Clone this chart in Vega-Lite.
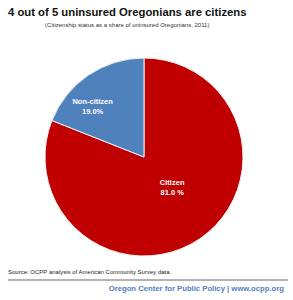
{
  "$schema": "https://vega.github.io/schema/vega-lite/v6.json",
  "padding": {"left": 7, "top": 6, "right": 6, "bottom": 2},
  "background": "white",
  "config": {"view": {"stroke": null}, "font": "Liberation Sans"},
  "title": {
    "text": "4 out of 5 uninsured Oregonians are citizens",
    "subtitle": "(Citizenship status as a share of uninsured Oregonians, 2011)",
    "anchor": "start",
    "align": "center",
    "dx": 120,
    "font": "Liberation Sans",
    "fontSize": 11.3,
    "fontWeight": "bold",
    "color": "#111111",
    "subtitleFont": "Liberation Sans",
    "subtitleFontSize": 6,
    "subtitleColor": "#333333",
    "subtitlePadding": 4,
    "offset": 27
  },
  "spacing": 4,
  "vconcat": [
    {
      "width": 272,
      "height": 204,
      "title": {
        "text": "Source: OCPP analysis of American Community Survey data.",
        "orient": "bottom",
        "anchor": "start",
        "align": "left",
        "dx": 0,
        "font": "Liberation Sans",
        "fontSize": 6,
        "fontWeight": "normal",
        "color": "#222222",
        "offset": 10
      },
      "data": {
        "values": [
          {"category": "Citizen", "share": 81.0, "label": "Citizen\n81.0 %"},
          {"category": "Non-citizen", "share": 19.0, "label": "Non-citizen\n19.0%"}
        ]
      },
      "encoding": {
        "theta": {"field": "share", "type": "quantitative", "stack": true},
        "order": {"field": "category", "sort": "ascending"}
      },
      "layer": [
        {
          "mark": {"type": "arc", "outerRadius": 99, "stroke": "#f2f2f2", "strokeWidth": 1},
          "encoding": {
            "color": {
              "field": "category",
              "type": "nominal",
              "scale": {"domain": ["Citizen", "Non-citizen"], "range": ["#C00000", "#4F81BD"]},
              "legend": null
            }
          }
        },
        {
          "mark": {"type": "text", "radius": 43, "dx": 4, "dy": -10, "font": "Liberation Sans", "fontSize": 7.5, "fontWeight": "bold", "color": "white", "lineBreak": "\n", "lineHeight": 10, "baseline": "middle"},
          "encoding": {
            "text": {"condition": {"test": "datum.category == 'Citizen'", "field": "label"}, "value": ""}
          }
        },
        {
          "mark": {"type": "text", "radius": 70, "dx": -12, "dy": 3, "font": "Liberation Sans", "fontSize": 7.5, "fontWeight": "bold", "color": "white", "lineBreak": "\n", "lineHeight": 10, "baseline": "middle"},
          "encoding": {
            "text": {"condition": {"test": "datum.category == 'Non-citizen'", "field": "label"}, "value": ""}
          }
        }
      ]
    },
    {
      "width": 280,
      "height": 11,
      "data": {
        "values": [
          {"part": "rule", "x": 0, "x2": 1, "y": 1},
          {"part": "text", "x": 1, "y": 0, "label": "Oregon Center for Public Policy | www.ocpp.org"}
        ]
      },
      "encoding": {
        "x": {"field": "x", "type": "quantitative", "scale": {"domain": [0, 1]}, "axis": null},
        "y": {"field": "y", "type": "quantitative", "scale": {"domain": [0, 1]}, "axis": null}
      },
      "layer": [
        {
          "transform": [{"filter": "datum.part == 'rule'"}],
          "mark": {"type": "rule", "color": "#9a9a9a", "strokeWidth": 1.5},
          "encoding": {"x2": {"field": "x2"}}
        },
        {
          "transform": [{"filter": "datum.part == 'text'"}],
          "mark": {"type": "text", "align": "right", "baseline": "alphabetic", "dx": -4, "font": "Liberation Sans", "fontSize": 7.7, "fontWeight": "bold", "color": "#4F81BD"},
          "encoding": {"text": {"field": "label"}}
        }
      ]
    }
  ]
}
